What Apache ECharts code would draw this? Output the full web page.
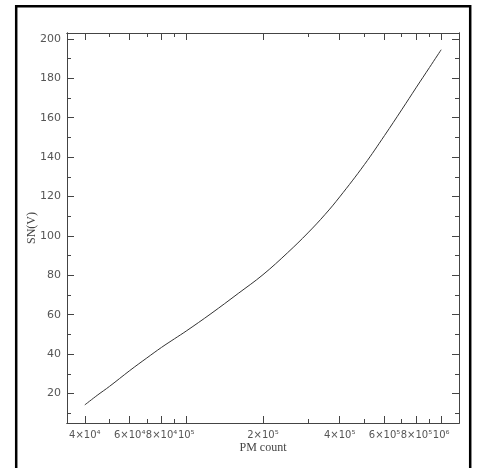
<!DOCTYPE html>
<html>
<head>
<meta charset="utf-8">
<script src="https://cdn.jsdelivr.net/npm/echarts@6/dist/echarts.min.js"></script>
<style>
  html, body { margin: 0; padding: 0; background: #fff; }
  #chart { width: 483px; height: 468px; }
</style>
</head>
<body>
<div id="chart"></div>
<script>
// ---- data ----
const pmCount = [40000, 45000, 50000, 60000, 70000, 80000, 90000, 100000, 125000, 160000,
                 200000, 250000, 300000, 350000, 400000, 500000, 600000, 700000, 800000, 900000, 1000000];
const snV     = [14.2, 19.3, 23.6, 31.6, 38.0, 43.4, 47.8, 51.7, 60.5, 70.8,
                 80.3, 91.5, 101.5, 110.8, 119.8, 136.2, 151.0, 164.0, 175.5, 185.5, 194.5];

const xMajorTicks = [40000, 60000, 80000, 100000, 200000, 400000, 600000, 800000, 1000000];
const xMajorLabels = ['4×10⁴', '6×10⁴', '8×10⁴', '10⁵', '2×10⁵', '4×10⁵', '6×10⁵', '8×10⁵', '10⁶'];
const xMinorTicks = [50000, 70000, 90000, 300000, 500000, 700000, 900000];
const xRange = [34050, 1175000];

const yMajorTicks = [20, 40, 60, 80, 100, 120, 140, 160, 180, 200];
const yMinorTicks = [10, 30, 50, 70, 90, 110, 130, 150, 170, 190];
const yRange = [5, 203];

// ---- build ----
const lg = v => Math.log10(v);
const axisColor = '#444';
const yLabelFont = { fontFamily: 'DejaVu Sans', fontSize: 11, color: '#555' };
const xLabelFont = { fontFamily: 'DejaVu Sans', fontSize: 10, color: '#555' };

function xLabel(val) {
  for (let i = 0; i < xMajorTicks.length; i++) {
    if (Math.abs(lg(xMajorTicks[i]) - val) < 1e-6) return xMajorLabels[i];
  }
  return '';
}

function xAxisDef(pos, ticks, len, showLabel, withName) {
  const a = {
    type: 'value',
    position: pos,
    min: lg(xRange[0]),
    max: lg(xRange[1]),
    splitLine: { show: false },
    axisLine: { show: true, lineStyle: { color: axisColor, width: 1 } },
    axisTick: { show: true, inside: true, length: len, customValues: ticks.map(lg),
                lineStyle: { color: axisColor, width: 1 } },
    axisLabel: { show: showLabel, customValues: ticks.map(lg), formatter: xLabel, margin: 7,
                 hideOverlap: false, showMinLabel: true, showMaxLabel: true, ...xLabelFont },
    axisPointer: { show: false }
  };
  if (withName) {
    a.name = 'PM count';
    a.nameLocation = 'middle';
    a.nameGap = 19;
    a.nameMoveOverlap = false;
    a.nameTextStyle = { fontFamily: 'Liberation Serif', fontSize: 12, color: '#444',
                        verticalAlign: 'top' };
  }
  return a;
}

function yAxisDef(pos, ticks, len, showLabel, withName) {
  const a = {
    type: 'value',
    position: pos,
    min: yRange[0],
    max: yRange[1],
    splitLine: { show: false },
    axisLine: { show: true, lineStyle: { color: axisColor, width: 1 } },
    axisTick: { show: true, inside: true, length: len, customValues: ticks,
                lineStyle: { color: axisColor, width: 1 } },
    axisLabel: { show: showLabel, customValues: ticks, margin: 6,
                 hideOverlap: false, showMinLabel: true, showMaxLabel: true, ...yLabelFont },
    axisPointer: { show: false }
  };
  if (withName) {
    a.name = 'SN(V)';
    a.nameLocation = 'middle';
    a.nameGap = 29;
    a.nameMoveOverlap = false;
    a.nameTextStyle = { fontFamily: 'Liberation Serif', fontSize: 12, color: '#444' };
  }
  return a;
}

const chart = echarts.init(document.getElementById('chart'), null, { renderer: 'canvas' });
chart.setOption({
  backgroundColor: '#fff',
  animation: false,
  grid: { left: 67, right: 24, top: 33, bottom: 45, outerBoundsMode: 'none' },
  xAxis: [
    xAxisDef('bottom', xMajorTicks, 7, true, true),
    xAxisDef('bottom', xMinorTicks, 4, false, false),
    xAxisDef('top', xMajorTicks, 7, false, false),
    xAxisDef('top', xMinorTicks, 4, false, false)
  ],
  yAxis: [
    yAxisDef('left', yMajorTicks, 7, true, true),
    yAxisDef('left', yMinorTicks, 4, false, false),
    yAxisDef('right', yMajorTicks, 7, false, false),
    yAxisDef('right', yMinorTicks, 4, false, false)
  ],
  series: [{
    type: 'line',
    xAxisIndex: 0,
    yAxisIndex: 0,
    data: pmCount.map((x, i) => [lg(x), snV[i]]),
    smooth: 0.4,
    showSymbol: false,
    lineStyle: { color: '#333', width: 1 }
  }],
  graphic: [{
    type: 'rect',
    shape: { x: 16.2, y: 6.2, width: 454, height: 520 },
    style: { fill: 'none', stroke: '#000', lineWidth: 2.5 },
    silent: true
  }]
});
</script>
</body>
</html>
